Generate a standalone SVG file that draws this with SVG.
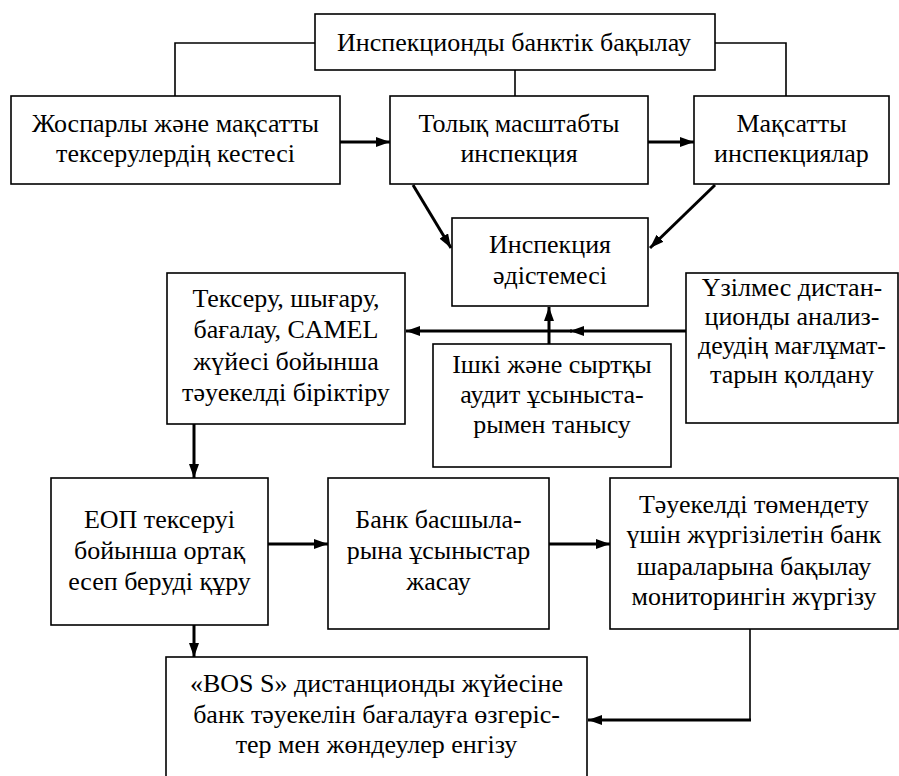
<svg xmlns="http://www.w3.org/2000/svg" width="899" height="776" viewBox="0 0 899 776">
<style>
.box{fill:#fff;stroke:#000;stroke-width:1.6}
.thin{fill:none;stroke:#000;stroke-width:1.6}
.thick{fill:none;stroke:#000;stroke-width:3}
.lt{font-family:'Liberation Serif','Times New Roman',serif;font-size:26px}
</style>
<defs>
<marker id="ah" viewBox="0 0 14 10" refX="14" refY="5" markerWidth="14" markerHeight="10" markerUnits="userSpaceOnUse" orient="auto">
<path d="M0,0 L14,5 L0,10 z" fill="#000"/>
</marker>
</defs>
<rect width="899" height="776" fill="#fff"/>
<g id="connectors">
<path class="thin" d="M315,43 H175 V96"/>
<path class="thin" d="M515,70 V96"/>
<path class="thin" d="M715,43 H786 V96"/>
<path class="thick" d="M340,142 H390" marker-end="url(#ah)"/>
<path class="thick" d="M648,142 H694" marker-end="url(#ah)"/>
<path class="thick" d="M413,185 L451,248" marker-end="url(#ah)"/>
<path class="thick" d="M715,185 L650,248" marker-end="url(#ah)"/>
<path class="thick" d="M686,331 H570" marker-end="url(#ah)"/>
<path class="thick" d="M572,331 H406" marker-end="url(#ah)"/>
<path class="thick" d="M549,344 V307" marker-end="url(#ah)"/>
<path class="thick" d="M194,424 V478" marker-end="url(#ah)"/>
<path class="thick" d="M268,544 H328" marker-end="url(#ah)"/>
<path class="thick" d="M549,544 H610" marker-end="url(#ah)"/>
<path class="thick" d="M194,625 V657" marker-end="url(#ah)"/>
<path class="thin" d="M750,629 V720"/>
<path class="thick" d="M751,720 H588" marker-end="url(#ah)"/>
</g>
<g class="lt" text-anchor="middle" fill="#000">
<g id="n-top">
<rect class="box" x="315" y="14" width="400" height="56"/>
<text x="514" y="51">Инспекционды банктік бақылау</text>
</g>
<g id="n-plan">
<rect class="box" x="11" y="96" width="329" height="88"/>
<text x="175.5" y="132">Жоспарлы және мақсатты</text>
<text x="175.5" y="162">тексерулердің кестесі</text>
</g>
<g id="n-full">
<rect class="box" x="390" y="96" width="258" height="88"/>
<text x="519" y="132">Толық масштабты</text>
<text x="519" y="162">инспекция</text>
</g>
<g id="n-target">
<rect class="box" x="694" y="96" width="195" height="88"/>
<text x="791.5" y="132">Мақсатты</text>
<text x="791.5" y="162">инспекциялар</text>
</g>
<g id="n-method">
<rect class="box" x="452" y="218" width="196" height="88"/>
<text x="550" y="253">Инспекция</text>
<text x="550" y="284">әдістемесі</text>
</g>
<g id="n-check">
<rect class="box" x="167" y="273" width="238" height="151"/>
<text x="286" y="307">Тексеру, шығару,</text>
<text x="286" y="338">бағалау, CAMEL</text>
<text x="286" y="370">жүйесі бойынша</text>
<text x="286" y="401">тәуекелді біріктіру</text>
</g>
<g id="n-remote">
<rect class="box" x="686" y="273" width="212" height="150"/>
<text x="792" y="296">Үзілмес дистан-</text>
<text x="792" y="325">ционды анализ-</text>
<text x="792" y="354">деудің мағлұмат-</text>
<text x="792" y="383">тарын қолдану</text>
</g>
<g id="n-audit">
<rect class="box" x="433" y="344" width="238" height="123"/>
<text x="552" y="373">Ішкі және сыртқы</text>
<text x="552" y="403">аудит ұсыныста-</text>
<text x="552" y="433">рымен танысу</text>
</g>
<g id="n-eop">
<rect class="box" x="51" y="478" width="217" height="147"/>
<text x="159.5" y="528">ЕОП тексеруі</text>
<text x="159.5" y="559">бойынша ортақ</text>
<text x="159.5" y="590">есеп беруді құру</text>
</g>
<g id="n-bank">
<rect class="box" x="328" y="478" width="221" height="151"/>
<text x="438.5" y="528">Банк басшыла-</text>
<text x="438.5" y="559">рына ұсыныстар</text>
<text x="438.5" y="590">жасау</text>
</g>
<g id="n-risk">
<rect class="box" x="610" y="478" width="288" height="151"/>
<text x="754" y="513">Тәуекелді төмендету</text>
<text x="754" y="543">үшін жүргізілетін банк</text>
<text x="754" y="575">шараларына бақылау</text>
<text x="754" y="605">мониторингін жүргізу</text>
</g>
<g id="n-bos">
<rect class="box" x="166" y="657" width="421" height="140"/>
<text x="376.5" y="692">«BOS S» дистанционды жүйесіне</text>
<text x="376.5" y="723">банк тәуекелін бағалауға өзгеріс-</text>
<text x="376.5" y="753">тер мен жөндеулер енгізу</text>
</g>
</g>
</svg>
